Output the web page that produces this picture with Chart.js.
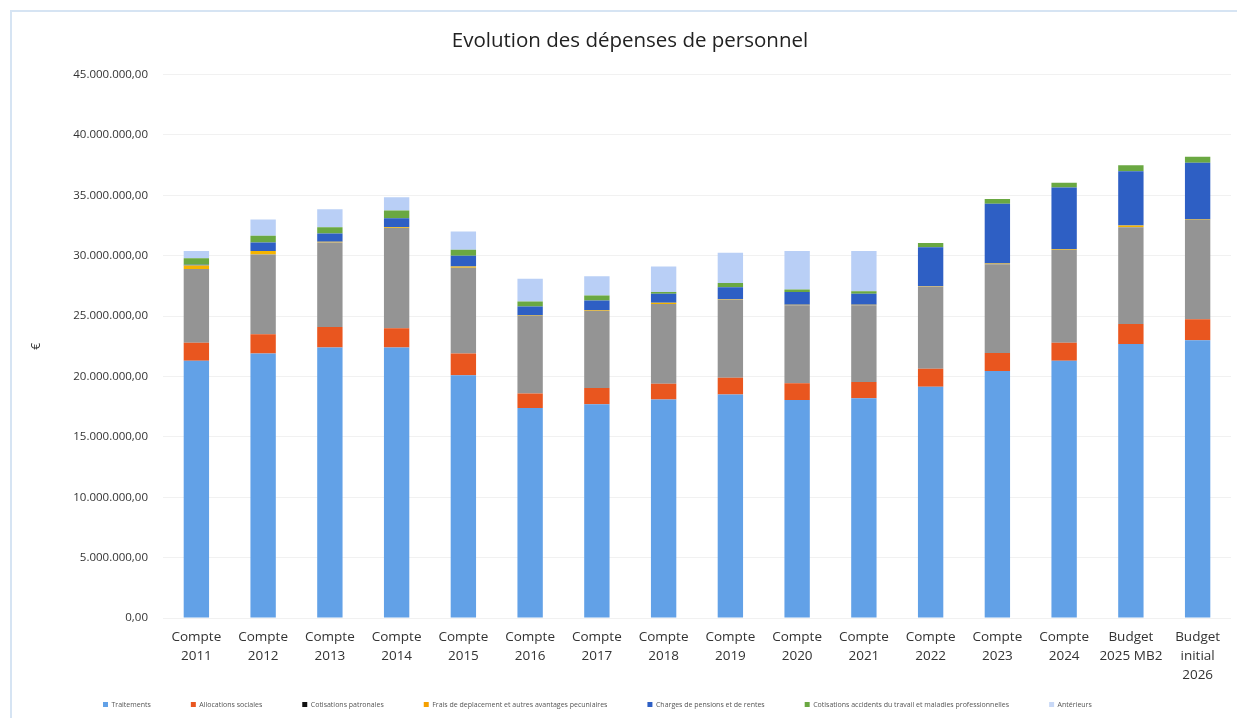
<!DOCTYPE html>
<html>
<head>
<meta charset="utf-8">
<script src="https://cdn.jsdelivr.net/npm/chart.js@4/dist/chart.umd.min.js"></script>
<style>
  html, body { margin: 0; padding: 0; background: #ffffff; }
  #wrap { position: relative; width: 1237px; height: 718px; }
  #frame { position: absolute; left: 10px; top: 10px; right: 0; bottom: 0; border-left: 2px solid #d6e4f3; border-top: 2px solid #d6e4f3; pointer-events: none; }
  canvas { position: absolute; left: 0; top: 0; }
</style>
</head>
<body>
<div id="wrap">
  <canvas id="c" width="1237" height="718"></canvas>
  <div id="frame"></div>
</div>
<script>
const categories = [
  ["Compte","2011"],["Compte","2012"],["Compte","2013"],["Compte","2014"],
  ["Compte","2015"],["Compte","2016"],["Compte","2017"],["Compte","2018"],
  ["Compte","2019"],["Compte","2020"],["Compte","2021"],["Compte","2022"],
  ["Compte","2023"],["Compte","2024"],["Budget","2025 MB2"],["Budget","initial","2026"]
];
const seriesNames = [
  "Traitements",
  "Allocations sociales",
  "Cotisations patronales",
  "Frais de deplacement et autres avantages pecuniaires",
  "Charges de pensions et de rentes",
  "Cotisations accidents du travail et maladies professionnelles",
  "Antérieurs"
];
const traitements = [21300000,21900000,22400000,22400000,20100000,17400000,17700000,18100000,18500000,18050000,18200000,19150000,20450000,21300000,22700000,23000000];
const allocations = [1500000,1600000,1700000,1600000,1800000,1200000,1350000,1300000,1400000,1400000,1350000,1500000,1500000,1500000,1650000,1750000];
const cotisations = [6100000,6600000,7000000,8300000,7100000,6400000,6400000,6600000,6450000,6450000,6350000,6800000,7350000,7700000,8000000,8200000];
const frais = [300000,300000,50000,50000,100000,50000,50000,100000,50000,50000,50000,50000,50000,50000,150000,50000];
const pensions = [50000,700000,700000,750000,900000,750000,800000,750000,1000000,1050000,900000,3200000,4950000,5100000,4500000,4700000];
const accidents = [550000,550000,500000,650000,500000,400000,400000,150000,350000,200000,200000,350000,400000,400000,500000,500000];
const anterieurs = [600000,1350000,1500000,1100000,1500000,1900000,1600000,2100000,2500000,3200000,3350000,0,0,0,0,0];

const colors = ["#62a1e7","#e9561f","#949494","#f5b400","#2e5fc4","#6aa842","#b9cff6"];
const legendColors = ["#62a1e7","#e9561f","#111111","#f5a000","#2e5fc4","#6aa842","#c8d8f6"];
const allData = [traitements, allocations, cotisations, frais, pensions, accidents, anterieurs];

function fmt(v) {
  const neg = v < 0;
  let s = Math.round(Math.abs(v)).toString();
  s = s.replace(/\B(?=(\d{3})+(?!\d))/g, ".");
  return (neg ? "-" : "") + s + ",00";
}

const datasets = allData.map((d, i) => ({
  label: seriesNames[i],
  data: d,
  backgroundColor: colors[i],
  borderWidth: 0,
  categoryPercentage: 1.0,
  barPercentage: 0.38
}));

const LEG_PAD = 40;
const legendFix = {
  id: "legendFix",
  afterInit(chart) {
    const lg = chart.legend;
    if (!lg) return;
    const origFit = lg.fit;
    lg.fit = function () {
      origFit.call(this);
      this.height = 24;
    };
    const origDraw = lg._draw;
    lg._draw = function () {
      const ctx = this.ctx;
      ctx.save();
      ctx.translate(103 - (this.left + LEG_PAD), -(LEG_PAD - 9));
      origDraw.call(this);
      ctx.restore();
    };
  }
};

new Chart(document.getElementById("c"), {
  type: "bar",
  data: { labels: categories, datasets },
  plugins: [legendFix],
  options: {
    responsive: false,
    animation: false,
    devicePixelRatio: 1,
    layout: { padding: { left: 29, right: 6, top: 29, bottom: 2 } },
    plugins: {
      title: {
        display: true,
        text: "Evolution des dépenses de personnel",
        color: "#222222",
        font: { family: "Open Sans", size: 20.5, weight: "normal" },
        padding: { top: 0, bottom: 21 }
      },
      legend: {
        position: "bottom",
        align: "start",
        labels: {
          boxWidth: 5,
          boxHeight: 5,
          padding: LEG_PAD,
          color: "#555555",
          font: { family: "Open Sans", size: 7 },
          generateLabels(chart) {
            return chart.data.datasets.map((ds, i) => ({
              text: ds.label,
              fillStyle: legendColors[i],
              strokeStyle: legendColors[i],
              lineWidth: 0,
              hidden: false,
              datasetIndex: i,
              fontColor: "#555555"
            }));
          }
        }
      },
      tooltip: { enabled: false }
    },
    scales: {
      x: {
        stacked: true,
        grid: { display: false },
        border: { display: false },
        ticks: {
          color: "#333333",
          font: { family: "Open Sans", size: 13.5, lineHeight: 1.4 },
          padding: 2,
          maxRotation: 0,
          autoSkip: false
        },
        afterFit(scale) { scale.height = 74; }
      },
      y: {
        stacked: true,
        min: 0,
        max: 45000000,
        grid: { color: "#f1f1f1", drawTicks: false },
        border: { display: false },
        ticks: {
          stepSize: 5000000,
          color: "#333333",
          font: { family: "Open Sans", size: 11.5 },
          padding: 15,
          callback: (v) => fmt(v)
        },
        title: {
          display: true,
          text: "€",
          color: "#333333",
          font: { family: "Open Sans", size: 12 },
          padding: { top: 0, bottom: 10 }
        },
        afterFit(scale) { scale.width = 134; }
      }
    }
  }
});
</script>
</body>
</html>
